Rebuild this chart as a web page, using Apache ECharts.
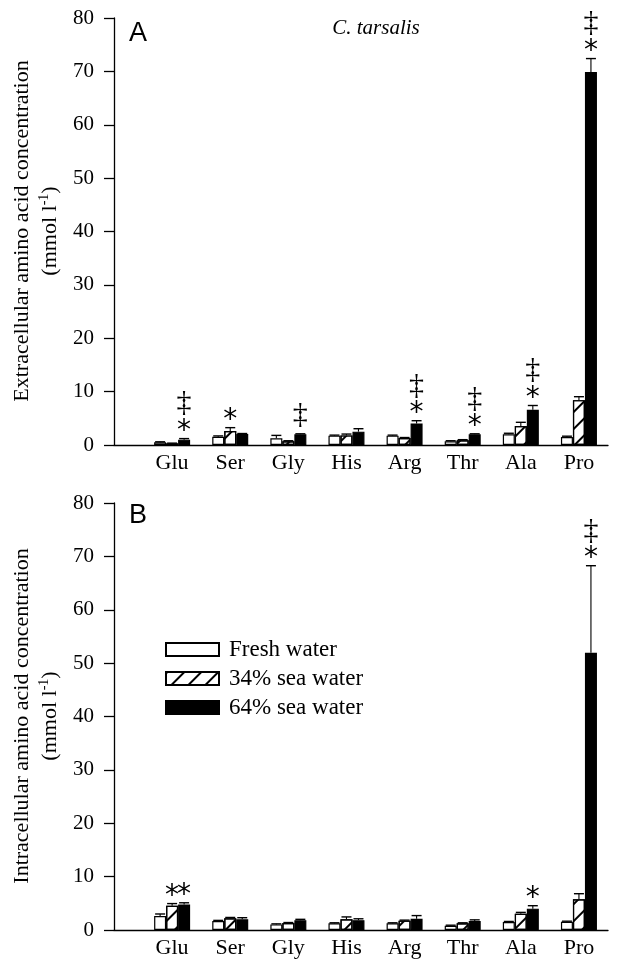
<!DOCTYPE html>
<html><head><meta charset="utf-8">
<script src="https://cdn.jsdelivr.net/npm/echarts@6/dist/echarts.min.js"></script>
<style>html,body{margin:0;padding:0;background:#fff}#c{width:632px;height:959px}</style>
</head><body><div id="c"></div>
<script>
const cats = ['Glu','Ser','Gly','His','Arg','Thr','Ala','Pro'];
const seriesNames = ['Fresh water','34% sea water','64% sea water'];
const yTicks = [0,10,20,30,40,50,60,70,80];
// Panel A: extracellular
const extFresh   = [0.5, 1.55, 1.25, 1.75, 1.75, 0.7, 2.0, 1.5];
const extFreshSE = [0.1, 0.15, 0.55, 0.1, 0.1, 0.1, 0.2, 0.15];
const ext34      = [0.3, 2.6, 0.7, 1.8, 1.3, 0.9, 3.55, 8.4];
const ext34SE    = [0.05, 0.65, 0.1, 0.25, 0.1, 0.1, 0.7, 0.65];
const ext64      = [1.0, 2.05, 2.0, 2.5, 4.05, 2.0, 6.6, 69.9];
const ext64SE    = [0.2, 0.1, 0.1, 0.55, 0.5, 0.1, 0.8, 2.5];
const extSigFresh = ['','','','','','','',''];
const extSig34    = ['','*','','','','','',''];
const extSig64    = ['‡*','','‡','','‡*','‡*','‡*','‡*'];
// Panel B: intracellular
const intFresh   = [2.6, 1.7, 1.05, 1.25, 1.25, 0.8, 1.5, 1.55];
const intFreshSE = [0.4, 0.1, 0.1, 0.1, 0.1, 0.1, 0.1, 0.1];
const int34      = [4.55, 2.2, 1.3, 2.0, 1.75, 1.25, 3.05, 5.75];
const int34SE    = [0.4, 0.15, 0.1, 0.45, 0.1, 0.1, 0.25, 1.05];
const int64      = [4.8, 2.0, 1.85, 1.85, 2.1, 1.7, 4.0, 51.95];
const int64SE    = [0.3, 0.3, 0.15, 0.25, 0.6, 0.2, 0.55, 16.3];
const intSigFresh = ['','','','','','','',''];
const intSig34    = ['*','','','','','','',''];
const intSig64    = ['*','','','','','','*','‡*'];

const SERIF = 'Liberation Serif';
const BW = 12;
const hatch = {symbol:'rect', symbolSize:1, dashArrayX:[1,0], dashArrayY:[1.3,10], rotation:-Math.PI/4, color:'#000'};
const styles = [
  {color:'#fff', borderColor:'#000', borderWidth:1.2},
  {color:'#fff', borderColor:'#000', borderWidth:1.2, decal:hatch},
  {color:'#000', borderColor:'#000', borderWidth:1.2}
];

function barSeries(gi, vals) {
  return vals.map((v, s) => ({
    name: seriesNames[s], type:'bar', xAxisIndex:gi, yAxisIndex:gi,
    barWidth:BW, barGap:'0%', itemStyle:styles[s], z:2,
    data: v.map((y,i)=>[i+1, y])
  }));
}
function errSeries(gi, vals, ses, sigs) {
  const data = [];
  vals.forEach((v,s)=>v.forEach((y,i)=>data.push([i+1, y, ses[s][i], s, sigs[s][i]])));
  return {
    type:'custom', xAxisIndex:gi, yAxisIndex:gi, z:5, silent:true,
    data: data,
    encode:{x:0, y:1},
    renderItem: function(params, api){
      const x = api.value(0), y = api.value(1), se = api.value(2), s = api.value(3);
      const sig = data[params.dataIndex][4];
      const base = api.coord([x, y]);
      const top = api.coord([x, y+se]);
      const cx = base[0] + (s-1)*BW;
      const ch = [
        {type:'line', shape:{x1:cx, y1:base[1], x2:cx, y2:top[1]}, style:{stroke:'#000', lineWidth:1.1}},
        {type:'line', shape:{x1:cx-5, y1:top[1], x2:cx+5, y2:top[1]}, style:{stroke:'#000', lineWidth:1.4}}
      ];
      let yy = top[1];
      if (sig.indexOf('*')>=0) {
        ch.push({type:'text', x:cx, y:yy-15+8, style:{text:'*', font:'28px "DejaVu Sans"', align:'center', verticalAlign:'middle', fill:'#000'}});
        yy -= 20;
      } else { yy -= 4; }
      if (sig.indexOf('‡')>=0) {
        ch.push({type:'text', x:cx, y:yy-15, style:{text:'‡', font:'30px "Liberation Serif"', align:'center', verticalAlign:'middle', fill:'#000'}});
      }
      return {type:'group', children:ch};
    }
  };
}

const grids = [
  {left:114, top:18, width:494, height:427},
  {left:114, top:503, width:494, height:427}
];
function xAx(gi){
  return {type:'value', gridIndex:gi, min:0, max:8.5, interval:1,
    axisLine:{show:true, lineStyle:{color:'#000', width:1.3}},
    axisTick:{show:false}, splitLine:{show:false},
    axisLabel:{margin:7, color:'#000', fontFamily:SERIF, fontSize:22,
      formatter:function(v){ return (Number.isInteger(v) && v>=1 && v<=cats.length) ? cats[v-1] : ''; }}};
}
function yAx(gi){
  return {type:'value', gridIndex:gi, min:yTicks[0], max:yTicks[yTicks.length-1], interval:10,
    axisLine:{show:true, lineStyle:{color:'#000', width:1.3}},
    axisTick:{show:true, inside:false, length:10, lineStyle:{color:'#000', width:1.3}},
    splitLine:{show:false},
    axisLabel:{margin:20, color:'#000', fontFamily:SERIF, fontSize:21}};
}
function yName(y, word){
  return {type:'text', x:36, y:y, rotation:Math.PI/2,
    style:{text:'{a|'+word+' amino acid concentration}\n{a|(mmol l}{sup|-1}{a|)}',
      align:'center', verticalAlign:'middle', fill:'#000',
      rich:{a:{fontFamily:SERIF, fontSize:22, lineHeight:28, fill:'#000'},
            sup:{fontFamily:SERIF, fontSize:14, lineHeight:28, padding:[0,0,11,0], fill:'#000'}}}};
}

const chart = echarts.init(document.getElementById('c'), null, {renderer:'canvas'});
chart.setOption({
  animation:false,
  backgroundColor:'#fff',
  grid: grids,
  xAxis: [xAx(0), xAx(1)],
  yAxis: [yAx(0), yAx(1)],
  legend: {
    data: seriesNames, orient:'vertical', left:165, top:638, itemGap:6, padding:0,
    itemWidth:53, itemHeight:13, icon:'rect',
    textStyle:{fontFamily:SERIF, fontSize:23, lineHeight:20, color:'#000', padding:[0,0,0,5]},
    selectedMode:false
  },
  graphic: [
    {type:'text', left:129, top:20, style:{text:'A', font:'27px "Liberation Sans"', fill:'#000'}},
    {type:'text', left:129, top:502, style:{text:'B', font:'27px "Liberation Sans"', fill:'#000'}},
    {type:'text', x:376, y:28, style:{text:'C. tarsalis', font:'italic 21px "Liberation Serif"', align:'center', verticalAlign:'middle', fill:'#000'}},
    yName(231, 'Extracellular'),
    yName(716, 'Intracellular')
  ],
  series: [].concat(
    barSeries(0, [extFresh, ext34, ext64]),
    barSeries(1, [intFresh, int34, int64]),
    [errSeries(0, [extFresh, ext34, ext64], [extFreshSE, ext34SE, ext64SE], [extSigFresh, extSig34, extSig64]),
     errSeries(1, [intFresh, int34, int64], [intFreshSE, int34SE, int64SE], [intSigFresh, intSig34, intSig64])]
  )
});
</script></body></html>
